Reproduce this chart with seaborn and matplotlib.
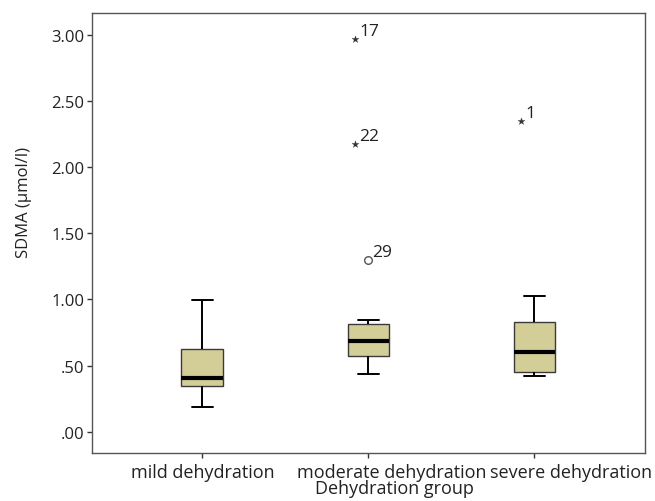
import numpy as np
import pandas as pd
import matplotlib
matplotlib.use("Agg")
import matplotlib.pyplot as plt
from matplotlib.transforms import offset_copy, ScaledTranslation
import seaborn as sns

# ---- data ----
categories = ["mild dehydration", "moderate dehydration", "severe dehydration"]
whisker_low = [0.19, 0.435, 0.42]
q1 = [0.345, 0.57, 0.455]
medians = [0.405, 0.685, 0.60]
q3 = [0.625, 0.817, 0.828]
whisker_high = [0.995, 0.845, 1.03]

outlier_groups = ["moderate dehydration", "moderate dehydration",
                  "moderate dehydration", "severe dehydration"]
outlier_values = [2.97, 2.175, 1.30, 2.345]
outlier_labels = ["17", "22", "29", "1"]
outlier_extreme = [True, True, False, True]

y_ticks = [0.0, 0.5, 1.0, 1.5, 2.0, 2.5, 3.0]
y_tick_labels = [".00", ".50", "1.00", "1.50", "2.00", "2.50", "3.00"]
x_title = "Dehydration group"
y_title = "SDMA (µmol/l)"

# ---- styling ----
sns.set_style("white")
plt.rcParams["font.family"] = ["Open Sans", "DejaVu Sans"]
BOX = "#D3CE97"
SPINE = "#555555"
TEXT = "#222222"

rows = []
for g, a, b, c, d, e in zip(categories, whisker_low, q1, medians, q3, whisker_high):
    for v in (a, b, c, d, e):
        rows.append({"group": g, "value": v})
df = pd.DataFrame(rows)

out = pd.DataFrame({
    "pos": [categories.index(g) for g in outlier_groups],
    "value": outlier_values,
    "label": outlier_labels,
    "extreme": outlier_extreme,
})

fig = plt.figure(figsize=(6.55, 5.02), dpi=100)
ax = fig.add_axes([0.140, 0.0966, 0.8447, 0.8754])

sns.boxplot(data=df, x="group", y="value", order=categories, ax=ax,
            width=0.25, color=BOX, saturation=1, whis=(0, 100),
            showfliers=False, linewidth=1, linecolor="#333333",
            medianprops=dict(color="black", linewidth=3),
            whiskerprops=dict(color="black", linewidth=1.4),
            capprops=dict(color="black", linewidth=1.4),
            boxprops=dict(edgecolor="#3a3a3a", linewidth=1))

# outliers: circle for mild outliers, star (offset left as in SPSS) for extremes
star_dx_px = -13
star_trans = offset_copy(ax.transData, fig=fig, x=star_dx_px * 0.72, y=0, units="points")
circ = out[~out["extreme"]]
star = out[out["extreme"]]
sns.scatterplot(data=circ, x="pos", y="value", ax=ax, marker="o", s=30,
                facecolor="white", edgecolor="#555555", linewidth=1, zorder=5)
sns.scatterplot(data=star, x="pos", y="value", ax=ax, marker="*", s=28,
                color="#333333", edgecolor="#333333", linewidth=0.2,
                transform=star_trans, zorder=5)

for _, r in out.iterrows():
    dx = (star_dx_px + 4) if r["extreme"] else 4
    ax.annotate(r["label"], (r["pos"], r["value"]), xytext=(dx * 0.72, 3.0),
                textcoords="offset points", ha="left", va="baseline",
                fontsize=12.5, color=TEXT)

ax.set_xlim(-0.665, 2.665)
ax.set_ylim(-0.156, 3.164)
ax.set_yticks(y_ticks)
ax.set_yticklabels(y_tick_labels)
ax.set_xticks(range(len(categories)))
ax.set_xticklabels(categories)

ax.tick_params(axis="both", which="major", bottom=True, left=True,
               direction="out", length=3.6, width=1, color="#333333",
               labelcolor=TEXT)
ax.tick_params(axis="y", pad=1.5, labelsize=12)
ax.tick_params(axis="x", pad=4.0, labelsize=13)

# category labels sit slightly right of their ticks in the reference (SPSS layout)
label_shift_px = [1, 23, 37]
for lbl, dx in zip(ax.get_xticklabels(), label_shift_px):
    lbl.set_transform(lbl.get_transform() + ScaledTranslation(dx / 100, 0, fig.dpi_scale_trans))

for s in ax.spines.values():
    s.set_visible(True)
    s.set_color(SPINE)
    s.set_linewidth(1)

ax.set_xlabel(x_title, fontsize=13, color=TEXT)
ax.set_ylabel(y_title, fontsize=12, color=TEXT)
ax.xaxis.set_label_coords(0.548, -0.061)
ax.yaxis.set_label_coords(-0.108, 0.572)

fig.savefig("out.png", dpi=100)
